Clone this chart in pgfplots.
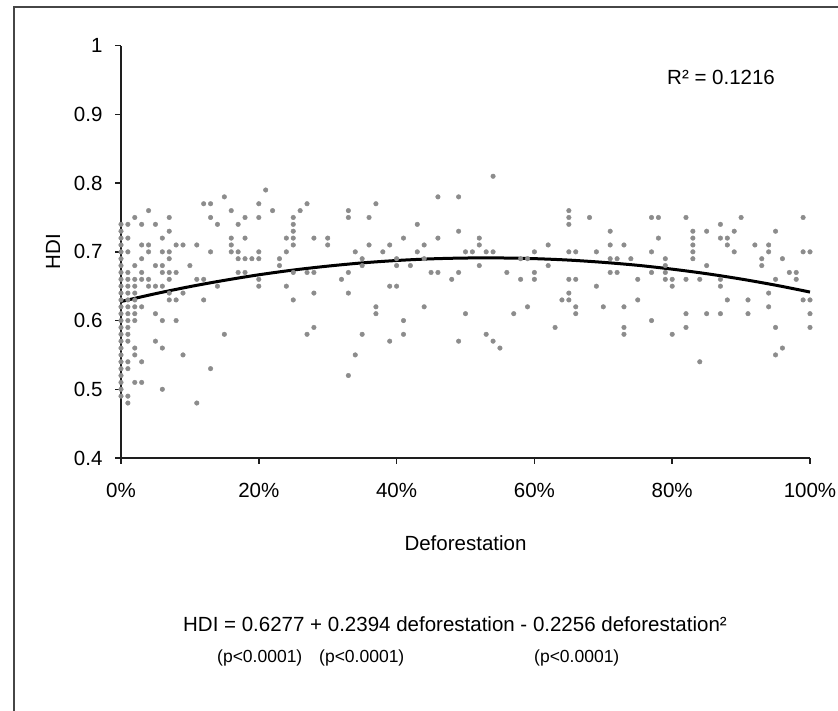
\documentclass[border=0pt]{standalone}
\usepackage{fontspec}
\setmainfont{Liberation Sans}
\usepackage{pgfplots}
\pgfplotsset{compat=1.18}
\definecolor{dotgray}{RGB}{140,140,140}
\definecolor{axisgray}{RGB}{30,30,30}
\definecolor{framegray}{RGB}{70,70,70}
\newcommand{\lbl}{\fontsize{20.5}{24}\selectfont}
\newcommand{\sml}{\fontsize{17.5}{21}\selectfont}

\begin{document}
\begin{tikzpicture}[x=1pt,y=1pt]
\begin{axis}[
  at={(121pt,253pt)}, anchor=south west,
  scale only axis, width=689pt, height=412.3pt,
  xmin=0, xmax=100, ymin=0.4, ymax=1,
  axis lines*=left,
  axis line style={line width=2pt, axisgray, -},
  xtick={0,20,40,60,80,100},
  xticklabels={0\%,20\%,40\%,60\%,80\%,100\%},
  ytick={0.4,0.5,0.6,0.7,0.8,0.9,1},
  tick align=outside, major tick length=6pt,
  tick style={line width=1.5pt, axisgray},
  tick label style={font=\lbl},
  xticklabel shift=16pt, yticklabel shift=9pt,
  /pgf/number format/assume math mode=true,
  xlabel={Deforestation}, ylabel={HDI},
  label style={font=\lbl},
  xlabel style={at={(axis description cs:0.5,-0.206)}, anchor=center},
  ylabel style={at={(axis description cs:-0.0987,0.5)}, anchor=center},
  clip=false,
]
% observations
\addplot[only marks, color=dotgray, mark=*, mark size=2.3pt, mark options={draw=dotgray, fill=dotgray}] coordinates {
(0,0.74) (0,0.73) (0,0.72) (0,0.71) (0,0.70) (0,0.69) (0,0.68) (0,0.67) (0,0.66) (0,0.65)
(0,0.64) (0,0.63) (0,0.62) (0,0.61) (0,0.60) (0,0.59) (0,0.58) (0,0.57) (0,0.56) (0,0.55)
(0,0.54) (0,0.53) (0,0.52) (0,0.51) (0,0.50) (0,0.49)
(1,0.74) (1,0.72) (1,0.70) (1,0.67) (1,0.66) (1,0.65) (1,0.64) (1,0.63) (1,0.62) (1,0.61)
(1,0.60) (1,0.59) (1,0.58) (1,0.57) (1,0.54) (1,0.53) (1,0.49) (1,0.48)
(2,0.75) (2,0.68) (2,0.66) (2,0.65) (2,0.64) (2,0.63) (2,0.62) (2,0.61) (2,0.60) (2,0.56) (2,0.55) (2,0.51)
(3,0.74) (3,0.71) (3,0.69) (3,0.67) (3,0.66) (3,0.62) (3,0.54) (3,0.51)
(4,0.76) (4,0.71) (4,0.70) (4,0.66) (4,0.65)
(5,0.74) (5,0.68) (5,0.65) (5,0.61) (5,0.57)
(6,0.72) (6,0.70) (6,0.68) (6,0.67) (6,0.65) (6,0.60) (6,0.56) (6,0.50)
(7,0.75) (7,0.73) (7,0.70) (7,0.69) (7,0.67) (7,0.66) (7,0.64) (7,0.63)
(8,0.71) (8,0.67) (8,0.63) (8,0.60)
(9,0.71) (9,0.64) (9,0.55)
(10,0.68)
(11,0.71) (11,0.66) (11,0.48)
(12,0.77) (12,0.66) (12,0.63)
(13,0.77) (13,0.75) (13,0.70) (13,0.53)
(14,0.74) (14,0.65)
(15,0.78) (15,0.58)
(16,0.76) (16,0.72) (16,0.71) (16,0.70)
(17,0.74) (17,0.70) (17,0.69) (17,0.67)
(18,0.75) (18,0.72) (18,0.69) (18,0.67)
(19,0.69)
(20,0.77) (20,0.75) (20,0.70) (20,0.69) (20,0.66) (20,0.65)
(21,0.79) (22,0.76)
(23,0.69) (23,0.68)
(24,0.72) (24,0.70) (24,0.65)
(25,0.75) (25,0.74) (25,0.73) (25,0.72) (25,0.71) (25,0.67) (25,0.63)
(26,0.76)
(27,0.77) (27,0.67) (27,0.58)
(28,0.72) (28,0.67) (28,0.64) (28,0.59)
(30,0.72) (30,0.71)
(32,0.66)
(33,0.76) (33,0.75) (33,0.67) (33,0.64) (33,0.52)
(34,0.70) (34,0.55)
(35,0.69) (35,0.68) (35,0.58)
(36,0.75) (36,0.71)
(37,0.77) (37,0.62) (37,0.61)
(38,0.70)
(39,0.71) (39,0.65) (39,0.57)
(40,0.69) (40,0.68) (40,0.65)
(41,0.72) (41,0.60) (41,0.58)
(42,0.68)
(43,0.74) (43,0.70)
(44,0.71) (44,0.69) (44,0.62)
(45,0.67)
(46,0.78) (46,0.72) (46,0.67)
(48,0.66)
(49,0.78) (49,0.73) (49,0.67) (49,0.57)
(50,0.70) (50,0.61)
(51,0.70)
(52,0.72) (52,0.71) (52,0.68)
(53,0.70) (53,0.58)
(54,0.81) (54,0.70) (54,0.57)
(55,0.56) (56,0.67) (57,0.61)
(58,0.69) (58,0.66)
(59,0.69) (59,0.62)
(60,0.70) (60,0.67) (60,0.66)
(62,0.71) (62,0.68)
(63,0.59) (64,0.63)
(65,0.76) (65,0.75) (65,0.74) (65,0.70) (65,0.66) (65,0.64) (65,0.63)
(66,0.70) (66,0.66) (66,0.62) (66,0.61)
(68,0.75)
(69,0.70) (69,0.65)
(70,0.62)
(71,0.73) (71,0.71) (71,0.69) (71,0.67)
(72,0.69) (72,0.67)
(73,0.71) (73,0.62) (73,0.59) (73,0.58)
(74,0.69)
(75,0.66) (75,0.63)
(77,0.75) (77,0.70) (77,0.67) (77,0.60)
(78,0.75) (78,0.72)
(79,0.69) (79,0.68) (79,0.67) (79,0.66)
(80,0.66) (80,0.65) (80,0.58)
(82,0.75) (82,0.66) (82,0.61) (82,0.59)
(83,0.73) (83,0.72) (83,0.71) (83,0.70) (83,0.69)
(84,0.66) (84,0.54)
(85,0.73) (85,0.68) (85,0.61)
(87,0.74) (87,0.72) (87,0.66) (87,0.65) (87,0.61)
(88,0.72) (88,0.71) (88,0.63)
(89,0.73) (89,0.70)
(90,0.75)
(91,0.63) (91,0.61)
(92,0.71)
(93,0.69) (93,0.68)
(94,0.71) (94,0.70) (94,0.64) (94,0.62)
(95,0.73) (95,0.66) (95,0.59) (95,0.55)
(96,0.69) (96,0.56)
(97,0.67)
(98,0.67) (98,0.66)
(99,0.75) (99,0.70) (99,0.63)
(100,0.70) (100,0.63) (100,0.61) (100,0.59)
};
% fitted quadratic trend
\addplot[black, line width=3pt, smooth] coordinates {
(0,0.6277) (5,0.6391) (10,0.6494) (15,0.6585) (20,0.6666) (25,0.6735)
(30,0.6792) (35,0.6839) (40,0.6874) (45,0.6898) (50,0.6910) (55,0.6911)
(60,0.6901) (65,0.6880) (70,0.6847) (75,0.6804) (80,0.6748) (85,0.6682)
(90,0.6604) (95,0.6515) (100,0.6415)
};
\end{axis}
\node[font=\lbl, anchor=base west, inner sep=0pt] at (667,626) {R² = 0.1216};
\node[font=\lbl, anchor=base, inner sep=0pt] at (455,79) {HDI = 0.6277 + 0.2394 deforestation - 0.2256 deforestation²};
\node[font=\sml, anchor=base west, inner sep=0pt] at (217,48) {(p<0.0001)};
\node[font=\sml, anchor=base west, inner sep=0pt] at (319,48) {(p<0.0001)};
\node[font=\sml, anchor=base west, inner sep=0pt] at (534,48) {(p<0.0001)};
\draw[framegray, line width=2pt] (13.5,-10) -- (13.5,703.5) -- (850,703.5);
\pgfresetboundingbox
\useasboundingbox (0,0) rectangle (838,711);
\end{tikzpicture}
\end{document}
